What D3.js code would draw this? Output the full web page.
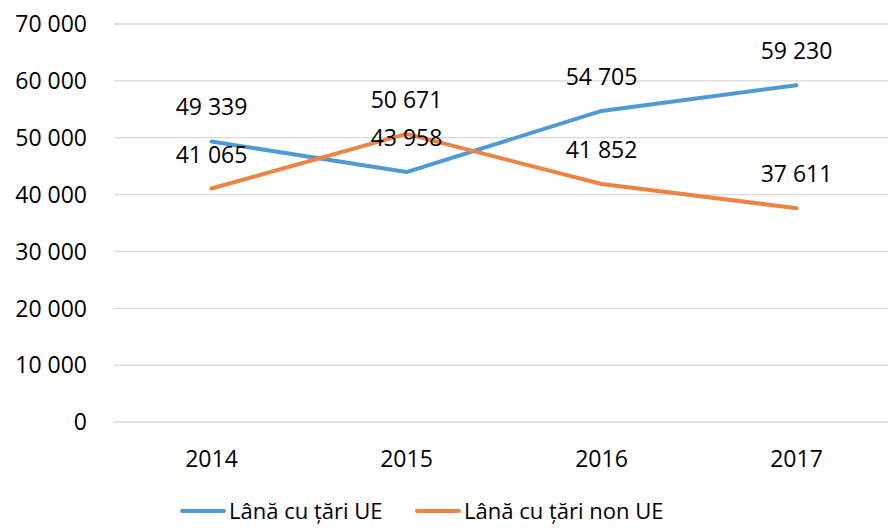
<!DOCTYPE html>
<html lang="ro">
<head>
    <meta charset="UTF-8">
    <title>Lână</title>
    <script src="https://d3js.org/d3.v7.min.js"></script>
    <style>
        * { margin: 0; padding: 0; }
        body { background: white; font-family: "Open Sans", "Noto Sans", sans-serif; }
        svg text { fill: #000; }
    </style>
</head>
<body>
<svg id="chart" width="888" height="529"></svg>
<script>
const years = ["2014", "2015", "2016", "2017"];
const seriesNames = ["Lână cu țări UE", "Lână cu țări non UE"];
const euValues = [49339, 43958, 54705, 59230];
const nonEuValues = [41065, 50671, 41852, 37611];
const yTicks = [0, 10000, 20000, 30000, 40000, 50000, 60000, 70000];
const colors = ["#4e9ad4", "#ee8444"];

const svg = d3.select("#chart");
const fmt = v => d3.format(",")(v).replace(/,/g, " ");
const fontSize = "23px";

const x = d3.scaleBand().domain(years).range([114, 894]);
const y = d3.scaleLinear().domain([0, 70000]).range([422, 24]);

// grid lines
svg.append("g").selectAll("line")
    .data(yTicks)
    .join("line")
    .attr("x1", 114).attr("x2", 888)
    .attr("y1", d => y(d)).attr("y2", d => y(d))
    .attr("stroke", "#d9d9d9").attr("stroke-width", 1.3);

// y axis labels
svg.append("g").selectAll("text")
    .data(yTicks)
    .join("text")
    .attr("x", 87).attr("y", d => y(d))
    .attr("dy", "0.36em")
    .attr("text-anchor", "end")
    .style("font-size", fontSize)
    .text(d => fmt(d));

// x axis labels
svg.append("g").selectAll("text")
    .data(years)
    .join("text")
    .attr("x", d => x(d) + x.bandwidth() / 2)
    .attr("y", 467)
    .attr("text-anchor", "middle")
    .style("font-size", fontSize)
    .text(d => d);

const series = [euValues, nonEuValues];
const line = d3.line()
    .x((d, i) => x(years[i]) + x.bandwidth() / 2)
    .y(d => y(d));

series.forEach((vals, s) => {
    svg.append("path")
        .datum(vals)
        .attr("d", line)
        .attr("fill", "none")
        .attr("stroke", colors[s])
        .attr("stroke-width", 4)
        .attr("stroke-linejoin", "round")
        .attr("stroke-linecap", "round");
});

// data labels, above each point
series.forEach((vals, s) => {
    svg.append("g").selectAll("text")
        .data(vals)
        .join("text")
        .attr("x", (d, i) => x(years[i]) + x.bandwidth() / 2)
        .attr("y", d => y(d) - 26)
        .attr("text-anchor", "middle")
        .style("font-size", fontSize)
        .text(d => fmt(d));
});

// legend
const legendX = [180, 415];
seriesNames.forEach((name, s) => {
    const g = svg.append("g").attr("transform", `translate(${legendX[s]},511)`);
    g.append("line")
        .attr("x1", 2).attr("x2", 44)
        .attr("y1", 0).attr("y2", 0)
        .attr("stroke", colors[s]).attr("stroke-width", 4)
        .attr("stroke-linecap", "round");
    g.append("text")
        .attr("x", 49).attr("y", 0)
        .attr("dy", "0.36em")
        .style("font-size", "22px")
        .text(name);
});
</script>
</body>
</html>
